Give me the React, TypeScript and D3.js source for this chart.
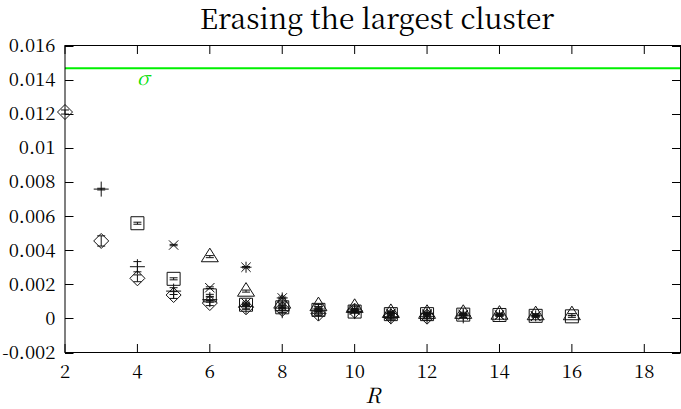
import * as d3 from 'd3';

const diamondR = [2, 3, 4, 5, 6, 7, 8, 9, 10, 11, 12];
const diamondVals = [0.0121, 0.00454, 0.00235, 0.00137, 0.0009, 0.00065, 0.00055, 0.00028, 0.00045, 0.00012, 0.0001];
const diamondErr = [0.00012, 0.0003, 0.0002, 0.0002, 0.00015, 0.00012, 0.0001, 0.0001, 0.0001, 0.0002, 0.0002];

const plusR = [3, 4, 5, 6, 7, 8, 9, 10, 11, 12, 13];
const plusVals = [0.00758, 0.00303, 0.0016, 0.0011, 0.0007, 0.00045, 0.0003, 0.0004, 0.0001, 0.00012, 0.00015];
const plusErr = [0.00005, 0.0003, 0.0002, 0.00015, 0.0001, 0.0001, 0.0001, 0.0001, 0.0001, 0.0001, 0.0001];

const squareR = [4, 5, 6, 7, 8, 9, 10, 11, 12, 13, 14, 15, 16];
const squareVals = [0.00558, 0.00232, 0.00135, 0.0008, 0.00065, 0.0005, 0.0004, 0.00025, 0.00025, 0.00022, 0.0002, 0.00015, 0.00012];
const squareErr = [0.00006, 0.00006, 0.00006, 0.00006, 0.00006, 0.00006, 0.00006, 0.00006, 0.00006, 0.00006, 0.00006, 0.00006, 0.00006];

const crossR = [5, 6, 7, 8, 9, 10, 11, 12, 13, 14, 15];
const crossVals = [0.0043, 0.0018, 0.0009, 0.0007, 0.00045, 0.0005, 0.00025, 0.0002, 0.00022, 0.00018, 0.00012];
const crossErr = [0.00004, 0.00005, 0.00005, 0.00005, 0.00005, 0.00005, 0.00005, 0.00005, 0.00005, 0.00005, 0.00005];

const triangleR = [6, 7, 8, 9, 10, 11, 12, 13, 14, 15, 16];
const triangleVals = [0.00362, 0.0016, 0.0009, 0.00075, 0.00065, 0.00035, 0.0003, 0.0003, 0.00025, 0.00022, 0.00022];
const triangleErr = [0.00006, 0.00006, 0.00006, 0.00006, 0.00006, 0.00006, 0.00006, 0.00006, 0.00006, 0.00006, 0.00006];

const starR = [7, 8, 9, 10, 11, 12, 13, 14, 15];
const starVals = [0.003, 0.0012, 0.00055, 0.0005, 0.0003, 0.00028, 0.0002, 0.0002, 0.00015];
const starErr = [0.00004, 0.00005, 0.00005, 0.00005, 0.00005, 0.00005, 0.00005, 0.00005, 0.00005];

const X_TICKS = [2, 4, 6, 8, 10, 12, 14, 16, 18];
const Y_TICKS = [-0.002, 0, 0.002, 0.004, 0.006, 0.008, 0.01, 0.012, 0.014, 0.016];
const Y_TICK_LABELS = ['-0.002', '0', '0.002', '0.004', '0.006', '0.008', '0.01', '0.012', '0.014', '0.016'];
const SIGMA = 0.01467;

type Kind = 'diamond' | 'plus' | 'square' | 'cross' | 'triangle' | 'star';

const series: { kind: Kind; r: number[]; v: number[]; e: number[] }[] = [
  { kind: 'diamond', r: diamondR, v: diamondVals, e: diamondErr },
  { kind: 'plus', r: plusR, v: plusVals, e: plusErr },
  { kind: 'square', r: squareR, v: squareVals, e: squareErr },
  { kind: 'cross', r: crossR, v: crossVals, e: crossErr },
  { kind: 'triangle', r: triangleR, v: triangleVals, e: triangleErr },
  { kind: 'star', r: starR, v: starVals, e: starErr },
];

const W = 681;
const H = 409;
const SX = 1.03; // the original figure is a touch stretched horizontally
const FONT = "'Noto Serif CJK SC', 'Liberation Serif', serif";

function marker(kind: Kind, cx: number, cy: number): string {
  const p = d3.path();
  if (kind === 'diamond') {
    const s = 7.5;
    p.moveTo(cx, cy - s);
    p.lineTo(cx + s, cy);
    p.lineTo(cx, cy + s);
    p.lineTo(cx - s, cy);
    p.closePath();
  } else if (kind === 'square') {
    const s = 6.5;
    p.rect(cx - s, cy - s, 2 * s, 2 * s);
  } else if (kind === 'triangle') {
    const s = 8.5;
    p.moveTo(cx, cy - s);
    p.lineTo(cx + s, cy + s * 0.6);
    p.lineTo(cx - s, cy + s * 0.6);
    p.closePath();
  } else {
    const s = kind === 'plus' ? 7.5 : 5.5;
    if (kind === 'plus' || kind === 'star') {
      p.moveTo(cx - s, cy);
      p.lineTo(cx + s, cy);
      p.moveTo(cx, cy - s);
      p.lineTo(cx, cy + s);
    }
    if (kind === 'cross' || kind === 'star') {
      const d = s * 0.85;
      p.moveTo(cx - d, cy - d);
      p.lineTo(cx + d, cy + d);
      p.moveTo(cx - d, cy + d);
      p.lineTo(cx + d, cy - d);
    }
  }
  return p.toString();
}

function errorBar(cx: number, yLo: number, yHi: number): string {
  const p = d3.path();
  const c = 4;
  p.moveTo(cx, yLo);
  p.lineTo(cx, yHi);
  p.moveTo(cx - c, yLo);
  p.lineTo(cx + c, yLo);
  p.moveTo(cx - c, yHi);
  p.lineTo(cx + c, yHi);
  return p.toString();
}

export default function App() {
  const left = 65;
  const right = 680.5;
  const top = 45.5;
  const bottom = 352.5;

  const x = d3.scaleLinear().domain([2, 19]).range([left, right]);
  const y = d3.scaleLinear().domain([-0.002, 0.016]).range([bottom, top]);
  const tick = 8.5;

  return (
    <div style={{ position: 'fixed', left: 0, top: 0 }}>
      <svg width={W} height={H} style={{ display: 'block', background: '#fff', fontFamily: FONT }}>
        {/* title */}
        <text
          x={377}
          y={29}
          textAnchor="middle"
          style={{ fontFamily: FONT }}
          fontSize={28}
          fill="#000"
        >
          Erasing the largest cluster
        </text>

        {/* sigma reference line */}
        <line x1={left} x2={right} y1={y(SIGMA)} y2={y(SIGMA)} stroke="#00f000" strokeWidth={2} />
        <text
          transform={`translate(137, 85) scale(${SX}, 1)`}
          style={{ fontFamily: FONT }}
          fontStyle="italic"
          fontSize={19}
          fill="#00e000"
        >
          σ
        </text>

        {/* y ticks, both sides */}
        {Y_TICKS.map((t, i) => (
          <g key={`y-${t}`}>
            <line x1={left} x2={left + tick} y1={Math.round(y(t)) + 0.5} y2={Math.round(y(t)) + 0.5} stroke="#000" />
            <line x1={right - tick} x2={right} y1={Math.round(y(t)) + 0.5} y2={Math.round(y(t)) + 0.5} stroke="#000" />
            <text
              transform={`translate(55.5, ${y(t) + 6.5}) scale(${SX}, 1)`}
              textAnchor="end"
              style={{ fontFamily: FONT }}
              fontSize={18}
              fill="#000"
            >
              {Y_TICK_LABELS[i]}
            </text>
          </g>
        ))}

        {/* x ticks, both sides */}
        {X_TICKS.map((t) => (
          <g key={`x-${t}`}>
            <line x1={x(t)} x2={x(t)} y1={bottom} y2={bottom - tick} stroke="#000" />
            <line x1={x(t)} x2={x(t)} y1={top} y2={top + tick} stroke="#000" />
            <text
              transform={`translate(${x(t)}, 378) scale(${SX}, 1)`}
              textAnchor="middle"
              style={{ fontFamily: FONT }}
              fontSize={18}
              fill="#000"
            >
              {t}
            </text>
          </g>
        ))}

        {/* frame */}
        <rect x={left} y={top} width={right - left} height={bottom - top} fill="none" stroke="#000" strokeWidth={1} />

        {/* data: error bars and point markers */}
        {series.map((s) => (
          <g key={s.kind} fill="none" stroke="#111" strokeWidth={1}>
            {s.r.map((r, i) => (
              <g key={r}>
                <path d={errorBar(x(r), y(s.v[i] - s.e[i]), y(s.v[i] + s.e[i]))} />
                <path d={marker(s.kind, x(r), y(s.v[i]))} />
              </g>
            ))}
          </g>
        ))}

        {/* axis label */}
        <text
          transform={`translate(373, 403) scale(${SX}, 1)`}
          textAnchor="middle"
          style={{ fontFamily: FONT }}
          fontStyle="italic"
          fontSize={21}
          fill="#000"
        >
          R
        </text>
      </svg>
    </div>
  );
}
